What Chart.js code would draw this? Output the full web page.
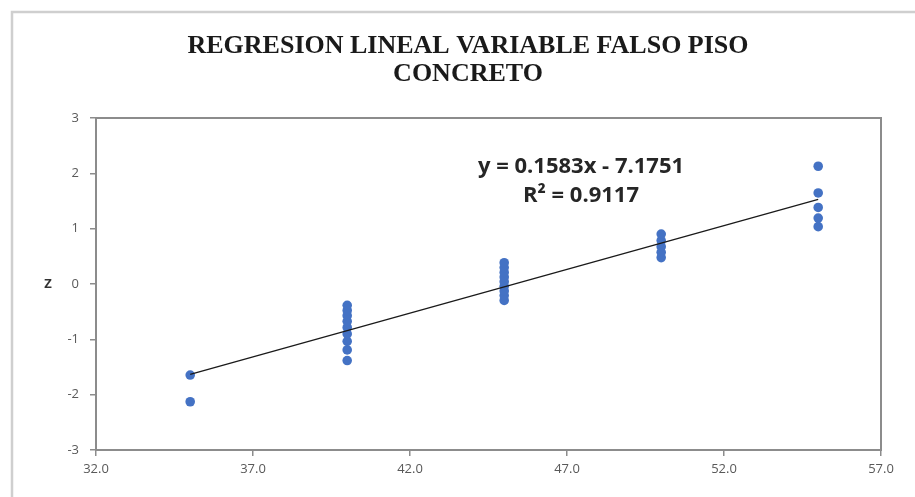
<!DOCTYPE html>
<html>
<head>
<meta charset="utf-8">
<script src="https://cdn.jsdelivr.net/npm/chart.js@4"></script>
<style>
  html, body { margin: 0; padding: 0; background: #ffffff; }
  #wrap { width: 915px; height: 497px; position: relative; }
</style>
</head>
<body>
<div id="wrap"><canvas id="c" width="915" height="497"></canvas></div>
<script>
// ---- data ----
const titleLines = ["REGRESION LINEAL VARIABLE FALSO PISO", "CONCRETO"];
const yAxisLabel = "Z";
const equationLines = ["y = 0.1583x - 7.1751", "R\u00B2 = 0.9117"];

const xValues = [35, 35,
  40, 40, 40, 40, 40, 40, 40, 40, 40,
  45, 45, 45, 45, 45, 45, 45, 45, 45,
  50, 50, 50, 50, 50,
  55, 55, 55, 55, 55];
const zValues = [-2.128, -1.645,
  -1.383, -1.192, -1.036, -0.903, -0.784, -0.674, -0.573, -0.477, -0.385,
  -0.297, -0.210, -0.126, -0.042, 0.042, 0.126, 0.210, 0.297, 0.385,
  0.477, 0.573, 0.674, 0.784, 0.903,
  1.036, 1.192, 1.383, 1.645, 2.128];

const trendX = [35, 55];
const trendY = [-1.6346, 1.5314];

const xMin = 32, xMax = 57, xStep = 5;
const yMin = -3, yMax = 3, yStep = 1;

// ---- build datasets ----
const scatterPts = xValues.map((x, i) => ({ x: x, y: zValues[i] }));
const trendPts = trendX.map((x, i) => ({ x: x, y: trendY[i] }));

const axisGray = '#8c8c8c';
const tickFont = { family: '"Open Sans", Lato, sans-serif', size: 13 };

const decor = {
  id: 'decor',
  beforeDraw(chart) {
    const ctx = chart.ctx;
    ctx.save();
    ctx.fillStyle = '#ffffff';
    ctx.fillRect(0, 0, chart.width, chart.height);
    ctx.strokeStyle = '#cfcfcf';
    ctx.lineWidth = 2.5;
    ctx.beginPath();
    ctx.moveTo(12, chart.height + 5);
    ctx.lineTo(12, 12);
    ctx.lineTo(chart.width + 5, 12);
    ctx.stroke();
    ctx.restore();
  },
  beforeDatasetsDraw(chart) {
    const a = chart.chartArea, ctx = chart.ctx;
    ctx.save();
    ctx.strokeStyle = axisGray;
    ctx.lineWidth = 2;
    ctx.strokeRect(a.left, a.top, a.right - a.left, a.bottom - a.top);
    ctx.restore();
  },
  afterDraw(chart) {
    const ctx = chart.ctx;
    ctx.save();
    ctx.fillStyle = '#1a1a1a';
    ctx.textAlign = 'center';
    ctx.textBaseline = 'middle';
    ctx.font = 'bold 26px "Liberation Serif", "Times New Roman", serif';
    const cx = 468;
    ctx.fillText(titleLines[0], cx, 46);
    ctx.fillText(titleLines[1], cx, 74);
    ctx.font = 'bold 22px "Open Sans", Lato, sans-serif';
    ctx.fillStyle = '#262626';
    ctx.fillText(equationLines[0], 581, 167);
    ctx.fillText(equationLines[1], 581, 196);
    ctx.font = 'bold 13px "Open Sans", Lato, sans-serif';
    ctx.fillStyle = '#333333';
    ctx.fillText(yAxisLabel, 48, chart.scales.y.getPixelForValue(0));
    ctx.restore();
  }
};

new Chart(document.getElementById('c'), {
  type: 'scatter',
  data: {
    datasets: [
      {
        type: 'line',
        label: 'trend',
        data: trendPts,
        borderColor: '#1a1a1a',
        borderWidth: 1.3,
        pointRadius: 0,
        fill: false,
        order: 0
      },
      {
        label: 'z',
        data: scatterPts,
        backgroundColor: '#4472C4',
        borderColor: '#4472C4',
        borderWidth: 0,
        pointRadius: 4.8,
        order: 1
      }
    ]
  },
  options: {
    responsive: false,
    animation: false,
    devicePixelRatio: 1,
    layout: { padding: { left: 0, right: 34, top: 118, bottom: 0 } },
    plugins: { legend: { display: false }, tooltip: { enabled: false }, title: { display: false } },
    scales: {
      x: {
        type: 'linear',
        min: xMin, max: xMax,
        afterFit(s) { s.height = 47; },
        afterBuildTicks(s) {
          const t = [];
          for (let v = xMin; v <= xMax + 1e-9; v += xStep) t.push({ value: v });
          s.ticks = t;
        },
        grid: { drawOnChartArea: false, drawTicks: true, tickLength: 6, color: axisGray, lineWidth: 1.5 },
        border: { display: true, color: axisGray, width: 2 },
        ticks: {
          color: '#595959', font: tickFont, padding: 5, maxRotation: 0,
          callback: v => Number(v).toFixed(1)
        }
      },
      y: {
        type: 'linear',
        min: yMin, max: yMax,
        afterFit(s) { s.width = 96; },
        ticks: { stepSize: yStep, color: '#595959', font: tickFont, padding: 11 },
        grid: { drawOnChartArea: false, drawTicks: true, tickLength: 6, color: axisGray, lineWidth: 1.5 },
        border: { display: true, color: axisGray, width: 2 }
      }
    }
  },
  plugins: [decor]
});
</script>
</body>
</html>
